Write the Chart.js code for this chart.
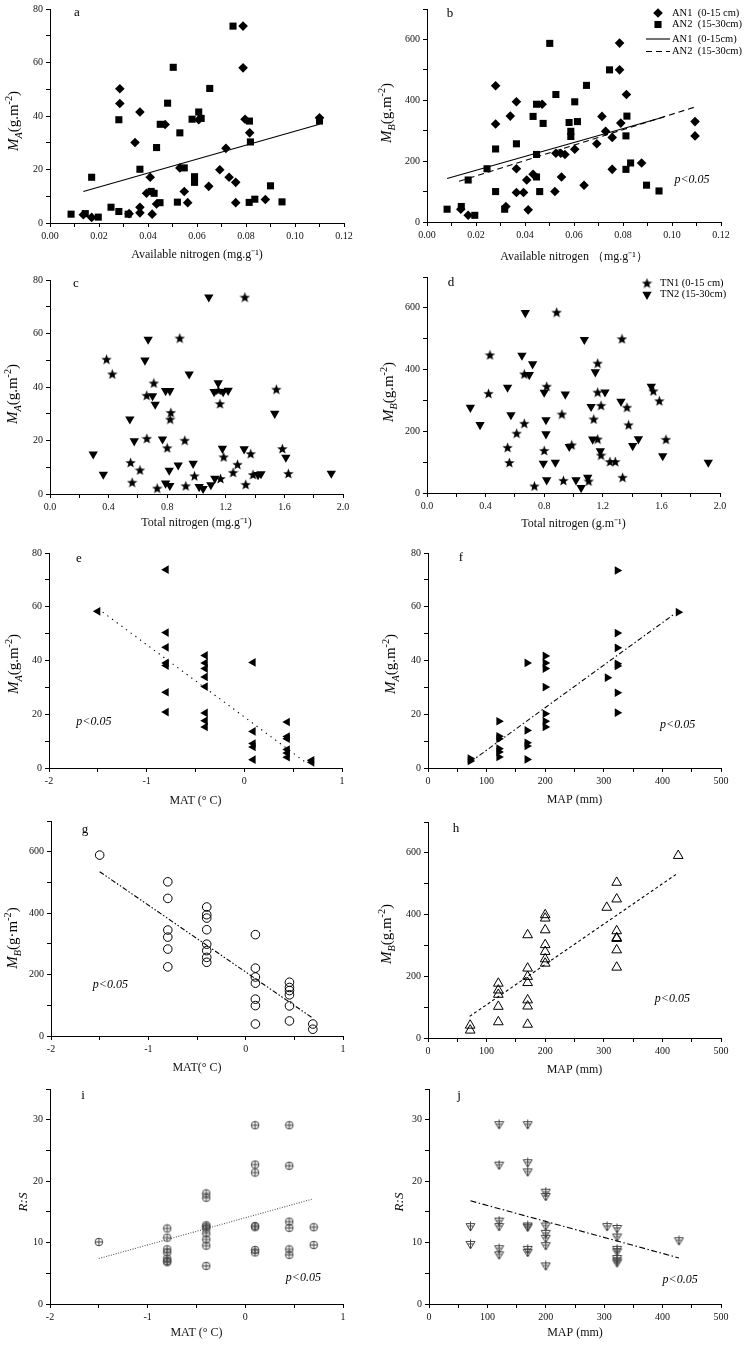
<!DOCTYPE html>
<html>
<head>
<meta charset="utf-8">
<title>Biomass vs nitrogen and climate</title>
<script src="https://cdn.jsdelivr.net/npm/chart.js@4.4.1/dist/chart.umd.min.js"></script>
<style>
  html, body { margin: 0; padding: 0; background: #fff; }
  #page { position: relative; width: 746px; height: 1345px; overflow: hidden; }
  .panel { position: absolute; width: 373px; }
</style>
</head>
<body>
<div id="page"></div>
<script>
// ---- data: [x, y] pairs ----
// a: available nitrogen vs M_A
const aAN1 = [[0.0136,3.1],[0.017,2.1],[0.0285,50.2],[0.0285,44.7],[0.0323,3.5],[0.0347,30.1],[0.0367,41.5],[0.0367,3.8],[0.0367,5.9],[0.0394,11.1],[0.0409,17.1],[0.0417,3.3],[0.0435,7.1],[0.047,36.8],[0.053,20.6],[0.0548,11.8],[0.0562,7.6],[0.0607,38.6],[0.0648,13.7],[0.0693,19.9],[0.0718,27.9],[0.0731,17.1],[0.0758,15.2],[0.0758,7.6],[0.0788,73.6],[0.0788,58.0],[0.0796,38.8],[0.0815,33.7],[0.0879,8.8],[0.11,39.3]];
const aAN2 = [[0.0086,3.3],[0.0144,3.5],[0.017,17.1],[0.0197,2.2],[0.0249,5.9],[0.0281,4.3],[0.0281,38.6],[0.0319,3.3],[0.0367,20.1],[0.0435,28.2],[0.0449,7.6],[0.045,36.9],[0.0413,11.8],[0.0425,11.1],[0.048,44.8],[0.0503,58.2],[0.052,7.8],[0.053,33.7],[0.0548,20.6],[0.058,38.8],[0.059,17.3],[0.059,15.2],[0.0607,41.5],[0.0617,39.1],[0.0652,50.3],[0.0747,73.6],[0.0813,7.7],[0.0814,38.1],[0.0818,30.3],[0.0836,8.9],[0.09,13.9],[0.0947,7.9],[0.11,38.1]];
const aFit = [[0.0136,11.8],[0.11,36.9]];

// b: available nitrogen vs M_B
const bAN1 = [[0.0138,42],[0.0168,22],[0.028,448],[0.028,322],[0.0322,51],[0.034,348],[0.0365,395],[0.0365,175],[0.0365,97],[0.0394,97],[0.0407,138],[0.0413,40],[0.0433,157],[0.047,387],[0.0522,100],[0.0526,226],[0.0546,226],[0.0549,148],[0.0563,222],[0.0603,239],[0.0641,121],[0.0693,257],[0.0714,347],[0.0729,298],[0.0756,278],[0.0756,173],[0.0786,500],[0.0786,588],[0.0791,325],[0.0814,419],[0.0876,194],[0.1094,330],[0.1094,283]];
const bAN2 = [[0.0082,42],[0.014,51],[0.0168,138],[0.0195,22],[0.0245,175],[0.028,240],[0.028,100],[0.0317,42],[0.0365,257],[0.0433,347],[0.0447,148],[0.0447,222],[0.0447,387],[0.046,100],[0.0474,324],[0.0501,587],[0.0526,419],[0.058,327],[0.0587,298],[0.0587,281],[0.0603,395],[0.0614,330],[0.0651,449],[0.0745,500],[0.0812,283],[0.0812,173],[0.0816,348],[0.0831,194],[0.0896,121],[0.0947,102]];
const bFit1 = [[0.0082,143],[0.0967,345]];
const bFit2 = [[0.0131,134],[0.1094,378]];

// c: total nitrogen vs M_A
const cTN1 = [[0.386,50.4],[0.425,44.9],[0.709,41.5],[0.66,36.9],[0.661,20.8],[0.55,11.8],[0.561,4.4],[0.614,9.0],[0.732,2.2],[0.80,17.3],[0.825,30.5],[0.82,28],[0.886,58.3],[0.92,20.1],[0.927,3.1],[0.986,6.8],[1.16,33.8],[1.164,5.8],[1.186,13.9],[1.25,8.1],[1.28,11.1],[1.33,73.6],[1.336,3.6],[1.37,15.1],[1.386,7.3],[1.545,39.2],[1.586,17],[1.627,7.7],[1.15,38.8]];
const cTN2 = [[0.295,14.9],[0.364,7.3],[0.545,28],[0.575,19.8],[0.648,50],[0.67,57.8],[0.70,36.7],[0.718,33.5],[0.768,20.5],[0.789,38.6],[0.818,38.6],[0.789,4],[0.814,8.8],[0.818,3.1],[0.875,10.8],[0.95,44.8],[0.977,11.4],[1.018,2.7],[1.045,2],[1.084,73.6],[1.098,3.4],[1.125,5.8],[1.12,38.2],[1.148,41.5],[1.182,38.2],[1.216,38.7],[1.177,17],[1.325,16.8],[1.42,7.2],[1.44,7.5],[1.534,30.1],[1.61,13.7],[1.92,7.7]];

// d: total nitrogen vs M_B
const dTN1 = [[0.43,448],[0.42,323],[0.55,148],[0.562,99],[0.612,194],[0.664,226],[0.664,386],[0.733,23],[0.80,138],[0.817,346],[0.885,586],[0.921,256],[0.931,41],[0.988,156],[1.104,39],[1.138,240],[1.165,421],[1.165,327],[1.165,175],[1.188,284],[1.188,123],[1.249,102],[1.285,102],[1.331,500],[1.335,51],[1.365,278],[1.376,221],[1.545,331],[1.586,299],[1.631,174]];
const dTN2 = [[0.296,277],[0.362,221],[0.55,342],[0.573,253],[0.648,446],[0.671,584],[0.698,383],[0.721,418],[0.80,326],[0.794,96],[0.812,237],[0.812,191],[0.817,42],[0.876,99],[0.944,320],[0.971,150],[1.017,42],[1.052,17],[1.074,497],[1.097,50],[1.12,280],[1.131,174],[1.149,392],[1.183,136],[1.215,327],[1.324,297],[1.404,153],[1.443,175],[1.531,345],[1.609,120],[1.92,99]];

// e: MAT vs M_A
const eMAT = [[-1.5,58.3],[-0.8,73.8],[-0.8,50.4],[-0.8,44.9],[-0.8,39.1],[-0.8,38.1],[-0.8,28.2],[-0.8,20.8],[-0.4,41.9],[-0.4,39.1],[-0.4,37],[-0.4,33.9],[-0.4,30.3],[-0.4,20.5],[-0.4,17.6],[-0.4,15.3],[0.09,39.3],[0.09,13.6],[0.09,9.1],[0.09,7.8],[0.09,3.1],[0.44,17.1],[0.44,11.7],[0.44,10.9],[0.44,6.9],[0.44,5.6],[0.44,4],[0.69,2.9],[0.69,2.1]];
const eFit = [[-1.45,58],[0.65,1.5]];

// f: MAP vs M_A
const fMAP = [[72,3.5],[72,2.6],[121,17.4],[121,11.8],[121,10.9],[121,7.2],[121,6],[121,4.1],[169,39.1],[169,14],[169,9.4],[169,8.2],[169,3.2],[200,41.7],[200,39.1],[200,37],[200,30.1],[200,20.2],[200,17.4],[200,15.3],[306,33.6],[323,73.5],[323,50.2],[323,44.7],[323,38.8],[323,38],[323,28],[323,20.6],[427,58]];
const fFit = [[72,2.2],[421,57.4]];

// g: MAT vs M_B
const gMAT = [[-1.5,589],[-0.8,502],[-0.8,448],[-0.8,345],[-0.8,322],[-0.8,283],[-0.8,225],[-0.4,420],[-0.4,395],[-0.4,384],[-0.4,346],[-0.4,299],[-0.4,278],[-0.4,256],[-0.4,240],[0.1,330],[0.1,221],[0.1,192],[0.1,172],[0.1,120],[0.1,99],[0.1,39],[0.45,175],[0.45,158],[0.45,148],[0.45,134],[0.45,98],[0.45,49],[0.69,39],[0.69,22]];
const gFit = [[-1.5,535],[0.69,58]];

// h: MAP vs M_B
const hMAP = [[72,41],[72,25],[120,177],[120,155],[120,141],[120,102],[120,52],[170,334],[170,226],[170,199],[170,179],[170,123],[170,103],[170,44],[200,399],[200,388],[200,350],[200,302],[200,280],[200,256],[200,242],[305,423],[322,504],[322,450],[322,347],[322,325],[322,322],[322,285],[322,229],[427,591]];
const hFit = [[71,70],[427,535]];

// i: MAT vs R:S
const iMAT = [[-1.5,10.1],[-0.8,12.3],[-0.8,10.8],[-0.8,8.9],[-0.8,8.4],[-0.8,7.4],[-0.8,7.0],[-0.8,6.8],[-0.4,18],[-0.4,17.3],[-0.4,12.8],[-0.4,12.6],[-0.4,12.3],[-0.4,11.5],[-0.4,10.5],[-0.4,9.5],[-0.4,6.2],[0.1,29.1],[0.1,22.7],[0.1,21.4],[0.1,12.7],[0.1,12.5],[0.1,8.8],[0.1,8.4],[0.45,29.1],[0.45,22.5],[0.45,13.4],[0.45,12.4],[0.45,8.9],[0.45,8.0],[0.7,12.5],[0.7,9.6]];
const iFit = [[-1.5,7.4],[0.69,17.1]];

// j: MAP vs R:S
const jMAP = [[71,12.6],[71,9.7],[120,29.2],[120,22.6],[120,13.5],[120,12.6],[120,9.0],[120,8.0],[169,29.2],[169,23],[169,21.5],[169,12.7],[169,12.5],[169,8.9],[169,8.4],[200,18.2],[200,17.5],[200,12.7],[200,11.5],[200,10.7],[200,9.5],[200,6.2],[305,12.6],[322,12.3],[322,10.9],[322,8.9],[322,8.5],[322,7.4],[322,7.0],[322,6.7],[428,10.3]];
const jFit = [[71,16.8],[428,7.5]];

// ---- look ----
const SERIF = "'Liberation Serif', 'Times New Roman', serif";
Chart.defaults.font.family = SERIF;
Chart.defaults.color = '#000';

const rowTop = [0, 266, 534, 810, 1080];
const rowH = [266, 268, 276, 270, 265];

// marker images the library doesn't have
function starImage(size) {
  const c = document.createElement('canvas');
  c.width = size; c.height = size;
  const g = c.getContext('2d');
  const cx = size / 2, cy = size / 2 + 0.6, R = size / 2, r = R * 0.42;
  g.beginPath();
  for (let i = 0; i < 10; i++) {
    const rad = i % 2 ? r : R;
    const ang = -Math.PI / 2 + i * Math.PI / 5;
    g.lineTo(cx + rad * Math.cos(ang), cy + rad * Math.sin(ang));
  }
  g.closePath();
  g.fillStyle = '#000';
  g.fill();
  return c;
}
function plusCircle() {
  const c = document.createElement('canvas');
  c.width = 10; c.height = 10;
  const g = c.getContext('2d');
  g.strokeStyle = '#444'; g.lineWidth = 1;
  g.beginPath(); g.arc(5, 5, 3.8, 0, Math.PI * 2); g.stroke();
  g.beginPath(); g.moveTo(1.2, 5); g.lineTo(8.8, 5); g.moveTo(5, 1.2); g.lineTo(5, 8.8); g.stroke();
  return c;
}
function plusTriangle() {
  const c = document.createElement('canvas');
  c.width = 11; c.height = 11;
  const g = c.getContext('2d');
  g.strokeStyle = '#444'; g.lineWidth = 1;
  g.beginPath(); g.moveTo(1, 2.5); g.lineTo(10, 2.5); g.lineTo(5.5, 10); g.closePath(); g.stroke();
  g.beginPath(); g.moveTo(5.5, 0.5); g.lineTo(5.5, 10); g.moveTo(2.5, 5); g.lineTo(8.5, 5); g.stroke();
  return c;
}
const STAR = starImage(11);
const PLUSC = plusCircle();
const PLUST = plusTriangle();

const xy = arr => arr.map(([x, y]) => ({ x, y }));

function pts(label, data, style, extra) {
  return Object.assign({
    label, data: xy(data), pointStyle: style, pointRadius: 5, pointRotation: 0,
    pointBackgroundColor: '#000', pointBorderColor: '#000', pointBorderWidth: 0,
    backgroundColor: '#000', borderColor: '#000'
  }, extra || {});
}
function fit(label, data, dash, color) {
  return {
    label, data: xy(data), showLine: true, pointRadius: 0,
    borderColor: color || '#000', borderWidth: 1.1, borderDash: dash || [], fill: false
  };
}

// rich text (sub/superscripts) for the y titles
function drawRich(ctx, segs, x, y, size) {
  const fontOf = s => (s.it ? 'italic ' : '') + (s.sub || s.sup ? size * 0.68 : size) + 'px ' + SERIF;
  let total = 0;
  segs.forEach(s => { ctx.font = fontOf(s); total += ctx.measureText(s.t).width; });
  ctx.save();
  ctx.translate(x, y);
  ctx.rotate(-Math.PI / 2);
  ctx.textAlign = 'left';
  ctx.textBaseline = 'alphabetic';
  let cx = -total / 2;
  const base = size * 0.35;
  segs.forEach(s => {
    ctx.font = fontOf(s);
    const dy = s.sub ? size * 0.28 : s.sup ? -size * 0.4 : 0;
    ctx.fillText(s.t, cx, base + dy);
    cx += ctx.measureText(s.t).width;
  });
  ctx.restore();
}

const panelText = {
  id: 'panelText',
  afterDraw(chart, args, o) {
    const { ctx, scales } = chart;
    const ox = o.ox, oy = o.oy;
    ctx.save();
    ctx.fillStyle = '#000';
    ctx.font = '13px ' + SERIF;
    ctx.textAlign = 'center';
    ctx.textBaseline = 'middle';
    ctx.fillText(o.letter[0], o.letter[1] - ox, o.letter[2] - oy);

    drawRich(ctx, o.yTitle, o.yTitleAt[0] - ox, o.yTitleAt[1] - oy, o.yTitleSize || 15);

    if (o.p) {
      ctx.font = 'italic 12px ' + SERIF;
      ctx.textAlign = 'left';
      ctx.fillText('p<0.05', scales.x.getPixelForValue(o.p[0]), scales.y.getPixelForValue(o.p[1]));
    }

    if (o.legend) {
      const L = o.legend;
      o.legend.rows.forEach(row => {
        const ds = chart.data.datasets[row.ds];
        const sx = L.x - ox, sy = row.y - oy;
        if (row.kind === 'line') {
          ctx.save();
          ctx.strokeStyle = ds.borderColor;
          ctx.lineWidth = ds.borderWidth;
          ctx.setLineDash(ds.borderDash || []);
          ctx.beginPath(); ctx.moveTo(sx - 12, sy); ctx.lineTo(sx + 12, sy); ctx.stroke();
          ctx.restore();
        } else {
          ctx.save();
          ctx.fillStyle = ds.pointBackgroundColor;
          ctx.strokeStyle = ds.pointBorderColor;
          ctx.lineWidth = ds.pointBorderWidth;
          Chart.helpers.drawPoint(ctx, {
            pointStyle: ds.pointStyle, rotation: ds.pointRotation || 0,
            radius: ds.pointRadius, borderWidth: ds.pointBorderWidth
          }, sx, sy);
          ctx.restore();
        }
        ctx.fillStyle = '#000';
        ctx.font = '10.5px ' + SERIF;
        ctx.textAlign = 'left';
        ctx.textBaseline = 'middle';
        ctx.fillText(row.text, L.tx - ox, sy);
      });
    }
    ctx.restore();
  }
};

function axisOpts(min, max, step, major, fmt) {
  return {
    type: 'linear', min, max,
    ticks: {
      stepSize: step, autoSkip: false, maxRotation: 0, padding: 3,
      font: { size: 10, family: SERIF }, color: '#111',
      callback: v => Math.abs(v / major - Math.round(v / major)) < 1e-6 ? fmt(v) : ''
    },
    grid: { drawOnChartArea: false, drawTicks: true, tickLength: 4, color: '#000', lineWidth: 1 },
    border: { display: true, color: '#000', width: 1 }
  };
}
const f2 = v => v.toFixed(2);
const f1 = v => v.toFixed(1);
const f0 = v => String(Math.round(v));

const MA = [{ t: 'M', it: true }, { t: 'A', it: true, sub: true }, { t: '(g.m' }, { t: '-2', sup: true }, { t: ')' }];
const MB = [{ t: 'M', it: true }, { t: 'B', it: true, sub: true }, { t: '(g.m' }, { t: '-2', sup: true }, { t: ')' }];
const MBdot = [{ t: 'M', it: true }, { t: 'B', it: true, sub: true }, { t: '(g·m' }, { t: '-2', sup: true }, { t: ')' }];
const RS = [{ t: 'R:S', it: true }];

function makePanel(p) {
  const ox = p.col * 373, oy = rowTop[p.row], h = rowH[p.row];
  const div = document.createElement('div');
  div.className = 'panel';
  div.style.left = ox + 'px';
  div.style.top = oy + 'px';
  div.style.height = h + 'px';
  const canvas = document.createElement('canvas');
  div.appendChild(canvas);
  document.getElementById('page').appendChild(div);

  const xAxis = axisOpts(...p.x);
  xAxis.afterFit = s => { s.height = oy + h - p.B; };
  xAxis.title = {
    display: true, text: p.xTitle, color: '#111',
    font: { size: 12, family: SERIF },
    padding: { top: 0, bottom: Math.max(0, oy + h - p.titleY - 7.2) }
  };
  const yAxis = axisOpts(...p.y);
  yAxis.afterFit = s => { s.width = p.L - ox; };

  return new Chart(canvas, {
    type: 'scatter',
    data: { datasets: p.datasets },
    options: {
      responsive: true, maintainAspectRatio: false, animation: false, events: [],
      layout: { padding: { top: p.T - oy, right: ox + 373 - p.R, left: 0, bottom: 0 } },
      plugins: {
        legend: { display: false }, tooltip: { enabled: false },
        panelText: {
          ox, oy, letter: p.letter, yTitle: p.yTitle, yTitleAt: p.yTitleAt,
          yTitleSize: p.yTitleSize, p: p.p, legend: p.legend
        }
      },
      scales: { x: xAxis, y: yAxis }
    },
    plugins: [panelText]
  });
}

// ---- panels ----
makePanel({
  col: 0, row: 0, L: 50, R: 344, T: 7.5, B: 223, titleY: 255,
  x: [0, 0.12, 0.01, 0.02, f2], y: [0, 80, 10, 20, f0],
  xTitle: 'Available nitrogen (mg.g\u207B\u00B9)', yTitle: MA, yTitleAt: [13, 121],
  letter: ['a', 77, 13],
  datasets: [
    fit('AN fit', aFit),
    pts('AN1 (0-15 cm)', aAN1, 'rectRot', { pointRadius: 4.8 }),
    pts('AN2 (15-30cm)', aAN2, 'rect', { pointRadius: 5 })
  ]
});

makePanel({
  col: 1, row: 0, L: 427, R: 721, T: 7, B: 222, titleY: 257,
  x: [0, 0.12, 0.01, 0.02, f2], y: [0, 700, 100, 200, f0],
  xTitle: 'Available nitrogen \uFF08mg.g\u207B\u00B9\uFF09', yTitle: MB, yTitleAt: [386, 113],
  letter: ['b', 450, 14], p: [0.101, 137],
  datasets: [
    pts('AN1  (0-15 cm)', bAN1, 'rectRot', { pointRadius: 4.8 }),
    pts('AN2  (15-30cm)', bAN2, 'rect', { pointRadius: 5 }),
    fit('AN1  (0-15cm)', bFit1),
    fit('AN2  (15-30cm)', bFit2, [6, 4])
  ],
  legend: {
    x: 658, tx: 672,
    rows: [
      { ds: 0, kind: 'point', y: 13, text: 'AN1  (0-15 cm)' },
      { ds: 1, kind: 'point', y: 24.5, text: 'AN2  (15-30cm)' },
      { ds: 2, kind: 'line', y: 39, text: 'AN1  (0-15cm)' },
      { ds: 3, kind: 'line', y: 51.5, text: 'AN2  (15-30cm)' }
    ]
  }
});

makePanel({
  col: 0, row: 1, L: 50, R: 343, T: 280, B: 494, titleY: 523,
  x: [0, 2, 0.2, 0.4, f1], y: [0, 80, 10, 20, f0],
  xTitle: 'Total nitrogen (mg.g\u207B\u00B9)', yTitle: MA, yTitleAt: [12, 394],
  letter: ['c', 76, 284],
  datasets: [
    pts('TN1 (0-15 cm)', cTN1, STAR),
    pts('TN2 (15-30cm)', cTN2, 'triangle', { pointRadius: 5.4, pointRotation: 180 })
  ]
});

makePanel({
  col: 1, row: 1, L: 427, R: 720, T: 277, B: 493, titleY: 524,
  x: [0, 2, 0.2, 0.4, f1], y: [0, 700, 100, 200, f0],
  xTitle: 'Total nitrogen (g.m\u207B\u00B9)', yTitle: MB, yTitleAt: [388, 392],
  letter: ['d', 451, 283],
  datasets: [
    pts('TN1 (0-15 cm)', dTN1, STAR),
    pts('TN2 (15-30cm)', dTN2, 'triangle', { pointRadius: 5.4, pointRotation: 180 })
  ],
  legend: {
    x: 647, tx: 660,
    rows: [
      { ds: 0, kind: 'point', y: 283, text: 'TN1 (0-15 cm)' },
      { ds: 1, kind: 'point', y: 294.5, text: 'TN2 (15-30cm)' }
    ]
  }
});

makePanel({
  col: 0, row: 2, L: 49, R: 342, T: 553, B: 768, titleY: 801,
  x: [-2, 1, 0.5, 1, f0], y: [0, 80, 10, 20, f0],
  xTitle: 'MAT (\u00B0 C)', yTitle: MA, yTitleAt: [13, 664],
  letter: ['e', 79, 559], p: [-1.72, 17],
  datasets: [
    fit('MAT fit', eFit, [1.3, 4.5]),
    pts('M_A', eMAT, 'triangle', { pointRadius: 5, pointRotation: 270 })
  ]
});

makePanel({
  col: 1, row: 2, L: 428, R: 721, T: 553, B: 768, titleY: 800,
  x: [0, 500, 50, 100, f0], y: [0, 80, 10, 20, f0],
  xTitle: 'MAP (mm)', yTitle: MA, yTitleAt: [390, 664],
  letter: ['f', 461, 558], p: [396, 16],
  datasets: [
    fit('MAP fit', fFit, [5, 2.5, 1.5, 2.5]),
    pts('M_A', fMAP, 'triangle', { pointRadius: 5, pointRotation: 90 })
  ]
});

makePanel({
  col: 0, row: 3, L: 51, R: 343, T: 821, B: 1036, titleY: 1068,
  x: [-2, 1, 0.5, 1, f0], y: [0, 700, 100, 200, f0],
  xTitle: 'MAT(\u00B0 C)', yTitle: MBdot, yTitleAt: [12, 938],
  letter: ['g', 85, 830], p: [-1.57, 166],
  datasets: [
    fit('MAT fit', gFit, [5, 2, 1.5, 2, 1.5, 2]),
    pts('M_B', gMAT, 'circle', { pointRadius: 4.3, pointBackgroundColor: 'rgba(255,255,255,0)', pointBorderWidth: 1 })
  ]
});

makePanel({
  col: 1, row: 3, L: 428, R: 721, T: 822, B: 1038, titleY: 1070,
  x: [0, 500, 50, 100, f0], y: [0, 700, 100, 200, f0],
  xTitle: 'MAP (mm)', yTitle: MB, yTitleAt: [386, 934],
  letter: ['h', 456, 829], p: [387, 126],
  datasets: [
    fit('MAP fit', hFit, [3, 2.5]),
    pts('M_B', hMAP, 'triangle', { pointRadius: 5.6, pointBackgroundColor: 'rgba(255,255,255,0)', pointBorderWidth: 1 })
  ]
});

makePanel({
  col: 0, row: 4, L: 50, R: 343, T: 1088, B: 1304, titleY: 1333,
  x: [-2, 1, 0.5, 1, f0], y: [0, 35, 5, 10, f0],
  xTitle: 'MAT (\u00B0 C)', yTitle: RS, yTitleAt: [22, 1202], yTitleSize: 13,
  letter: ['i', 83, 1096], p: [0.415, 4.2],
  datasets: [
    fit('MAT fit', iFit, [1, 1.5], '#555'),
    pts('R:S', iMAT, PLUSC)
  ]
});

makePanel({
  col: 1, row: 4, L: 429, R: 721, T: 1088, B: 1304, titleY: 1333,
  x: [0, 500, 50, 100, f0], y: [0, 35, 5, 10, f0],
  xTitle: 'MAP (mm)', yTitle: RS, yTitleAt: [398, 1202], yTitleSize: 13,
  letter: ['j', 459, 1096], p: [400, 3.9],
  datasets: [
    fit('MAP fit', jFit, [6, 2.5, 1.5, 2.5]),
    pts('R:S', jMAP, PLUST)
  ]
});
</script>
</body>
</html>
